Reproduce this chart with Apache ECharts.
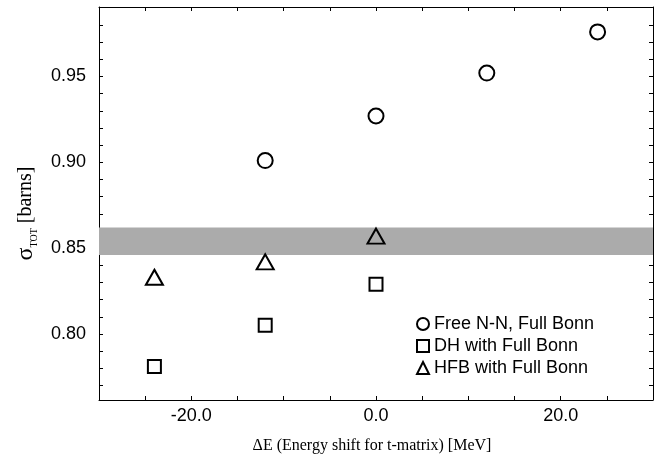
<!DOCTYPE html>
<html>
<head>
<meta charset="utf-8">
<script src="https://cdn.jsdelivr.net/npm/echarts@6/dist/echarts.min.js"></script>
<style>html,body{margin:0;padding:0;background:#fff}#c{width:663px;height:459px}</style>
</head>
<body>
<div id="c"></div>
<script>
// Data
var seriesNames = ['Free N-N, Full Bonn', 'DH with Full Bonn', 'HFB with Full Bonn'];
var xFree = [-12, 0, 12, 24];
var yFree = [0.901, 0.927, 0.952, 0.976];
var xDH = [-24, -12, 0];
var yDH = [0.781, 0.805, 0.829];
var xHFB = [-24, -12, 0];
var yHFB = [0.833, 0.842, 0.857];
var bandRange = [0.846, 0.862];
var xTicks = [-25, -20, -15, -10, -5, 0, 5, 10, 15, 20, 25];
var xLabels = [-20, 0, 20];
var yTicks = [0.77, 0.78, 0.79, 0.80, 0.81, 0.82, 0.83, 0.84, 0.85, 0.86, 0.87, 0.88, 0.89, 0.90, 0.91, 0.92, 0.93, 0.94, 0.95, 0.96, 0.97, 0.98];
var yLabels = [0.80, 0.85, 0.90, 0.95];

function pairs(xs, ys) { return xs.map(function (x, i) { return [x, ys[i]]; }); }

var chart = echarts.init(document.getElementById('c'), null, {renderer: 'canvas'});
var sansFont = 'Liberation Sans';
var serifFont = 'Liberation Serif';
var lineStyle = {color: '#000', width: 1};
var markStyle = {color: 'rgba(0,0,0,0)', borderColor: '#000', borderWidth: 2, opacity: 1};

function xAxisDef(pos, withLabels) {
  return {
    type: 'value', position: pos, min: -30, max: 30,
    axisLine: {show: true, onZero: false, lineStyle: lineStyle},
    axisTick: {show: true, inside: true, length: 4, lineStyle: lineStyle, customValues: xTicks},
    axisLabel: withLabels ? {
      show: true, customValues: xLabels, margin: 7, color: '#000',
      fontFamily: sansFont, fontSize: 18,
      formatter: function (v) { return v.toFixed(1); }
    } : {show: false, customValues: xLabels},
    splitLine: {show: false}
  };
}
function yAxisDef(pos, withLabels) {
  return {
    type: 'value', position: pos, min: 0.7615, max: 0.9905,
    axisLine: {show: true, onZero: false, lineStyle: lineStyle},
    axisTick: {show: true, inside: true, length: 4, lineStyle: lineStyle, customValues: yTicks},
    axisLabel: withLabels ? {
      show: true, customValues: yLabels, margin: 13, color: '#000',
      fontFamily: sansFont, fontSize: 18,
      formatter: function (v) { return v.toFixed(2); }
    } : {show: false, customValues: yLabels},
    splitLine: {show: false}
  };
}

var xMain = xAxisDef('bottom', true);
xMain.name = 'ΔE (Energy shift for t-matrix) [MeV]';
xMain.nameLocation = 'middle';
xMain.nameGap = 38;
xMain.nameTextStyle = {fontFamily: serifFont, fontSize: 16, color: '#000', padding: [0, 8, 0, 0]};

var yMain = yAxisDef('left', true);
yMain.name = '{a|σ}{b|TOT}{c| [barns]}';
yMain.nameLocation = 'middle';
yMain.nameRotate = 90;
yMain.nameGap = 60;
yMain.nameTextStyle = {
  color: '#000',
  padding: [0, 20, 0, 0],
  rich: {
    a: {fontFamily: serifFont, fontSize: 24, lineHeight: 26, verticalAlign: 'middle', color: '#000'},
    b: {fontFamily: serifFont, fontSize: 10, lineHeight: 26, verticalAlign: 'bottom', color: '#000'},
    c: {fontFamily: serifFont, fontSize: 20, lineHeight: 26, verticalAlign: 'middle', color: '#000'}
  }
};

var option = {
  animation: false,
  backgroundColor: '#fff',
  grid: {left: 99, top: 7, width: 554, height: 397, containLabel: false},
  xAxis: [xMain, xAxisDef('top', false)],
  yAxis: [yMain, yAxisDef('right', false)],
  legend: {
    orient: 'vertical', left: 416, top: 315, padding: 0,
    itemWidth: 12, itemHeight: 12, itemGap: 4,
    textStyle: {fontFamily: sansFont, fontSize: 18, color: '#000'},
    data: [
      {name: seriesNames[0], icon: 'circle'},
      {name: seriesNames[1], icon: 'rect'},
      {name: seriesNames[2], icon: 'triangle'}
    ]
  },
  series: [
    {
      name: seriesNames[0], type: 'scatter', symbol: 'circle', symbolSize: 15,
      itemStyle: markStyle, data: pairs(xFree, yFree), z: 5,
      markArea: {
        silent: true,
        itemStyle: {color: '#ababab', opacity: 1},
        data: [[{yAxis: bandRange[0]}, {yAxis: bandRange[1]}]]
      }
    },
    {
      name: seriesNames[1], type: 'scatter', symbol: 'rect', symbolSize: 13,
      itemStyle: markStyle, data: pairs(xDH, yDH), z: 5
    },
    {
      name: seriesNames[2], type: 'scatter', symbol: 'triangle', symbolSize: [17, 15],
      itemStyle: markStyle, data: pairs(xHFB, yHFB), z: 5
    }
  ]
};
chart.setOption(option);
</script>
</body>
</html>
